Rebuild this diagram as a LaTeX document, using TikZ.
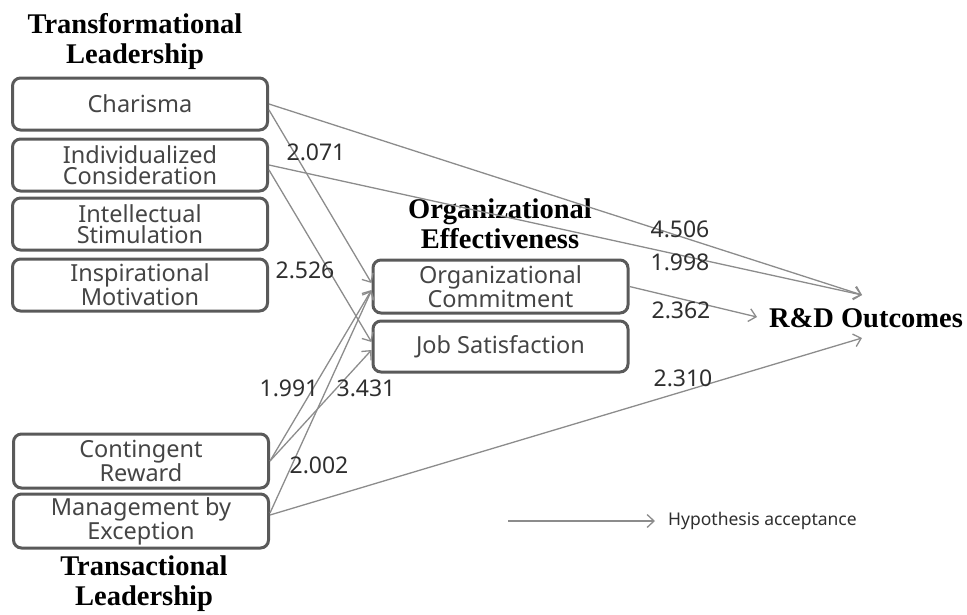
\documentclass[tikz,border=0pt]{standalone}
\usepackage{fontspec}
\setmainfont{Noto Sans}
\newfontfamily\titlefont{Liberation Serif}
\usetikzlibrary{arrows.meta,calc}
\definecolor{boxline}{HTML}{5A5A5A}
\definecolor{arrowgray}{HTML}{8C8C8C}
\definecolor{txt}{HTML}{454545}
\definecolor{numtxt}{HTML}{2E2E2E}
\begin{document}
\begin{tikzpicture}[x=1pt,y=-1pt,
  box/.style={draw=boxline, line width=3pt, rounded corners=8pt, minimum width=255pt,
    minimum height=52pt, inner sep=0pt, align=center, text=txt, fill=white,
    font=\fontsize{23.5}{21.5}\selectfont},
  ttl/.style={font=\titlefont\bfseries\fontsize{28.5}{30}\selectfont, align=center, inner sep=0pt},
  num/.style={font=\fontsize{23}{23}\selectfont, text=numtxt, inner sep=0pt},
  arr/.style={draw=arrowgray, line width=1.3pt, -{Straight Barb[length=7pt,width=13pt,line width=1.3pt]}},
]
\useasboundingbox (0,0) rectangle (967,614);

% titles
\node[ttl] (tfl) at (135,41) {Transformational\\Leadership};
\node[ttl] (trl) at (144,584) {Transactional\\Leadership};
\node[ttl] (oe) at (500,224) {Organizational\\Effectiveness};
\node[ttl] (rd) at (866,318) {R\&D Outcomes};

% left boxes
\node[box] (char) at (140,104) {Charisma};
\node[box] (indc) at (140,165) {Individualized\\Consideration};
\node[box] (ints) at (140,224) {Intellectual\\Stimulation};
\node[box] (insp) at (140,285) {Inspirational\\Motivation};
\node[box, minimum height=54pt] (cont) at (141,461) {Contingent\\Reward};
\node[box, minimum height=54pt] (mbe) at (141,521) {Management by\\Exception};

% middle boxes
\node[box, minimum height=53pt] (orgc) at (500.5,286.5) {Organizational\\Commitment};
\node[box, minimum height=51pt] (jobs) at (500.5,346.5) {Job Satisfaction};

% target points on R&D Outcomes
\coordinate (rdA) at ($(rd.center)+(-4,-23)$);
\coordinate (rdB) at ($(rd.center)+(-109,-1)$);
\coordinate (rdC) at ($(rd.center)+(-4,20)$);

% arrows
\draw[arr] (char.east) -- (rdA);
\draw[arr] (indc.east) -- (rdA);
\draw[arr] ([yshift=-6pt]char.east) -- ([yshift=3.5pt]orgc.west);
\draw[arr] ([yshift=-5pt]indc.east) -- ([yshift=4.5pt]jobs.west);
\draw[arr] (cont.east) -- ([yshift=-3.5pt]orgc.west);
\draw[arr] (cont.east) -- ([yshift=-3.5pt]jobs.west);
\draw[arr] ([yshift=8pt]mbe.east) -- ([yshift=-4pt]orgc.west);
\draw[arr] ([yshift=6pt]mbe.east) -- (rdC);
\draw[arr] (orgc.east) -- (rdB);

% path coefficients
\node[num] (n1) at (316,152) {2.071};
\node[num] (n2) at (305,270) {2.526};
\node[num] (n3) at (680,229) {4.506};
\node[num] (n4) at (680,262) {1.998};
\node[num] (n5) at (681,310) {2.362};
\node[num] (n6) at (289,388) {1.991};
\node[num] (n7) at (366,388) {3.431};
\node[num] (n8) at (319,465) {2.002};
\node[num] (n9) at (683,378) {2.310};

% legend
\node[anchor=west, inner sep=0pt, text=numtxt, font=\fontsize{17.5}{18}\selectfont] (lg) at (668,521) {Hypothesis acceptance};
\coordinate (lgA) at (508,521);
\draw[arr] (lgA) -- ([xshift=-13pt]lg.west);
\end{tikzpicture}
\end{document}
